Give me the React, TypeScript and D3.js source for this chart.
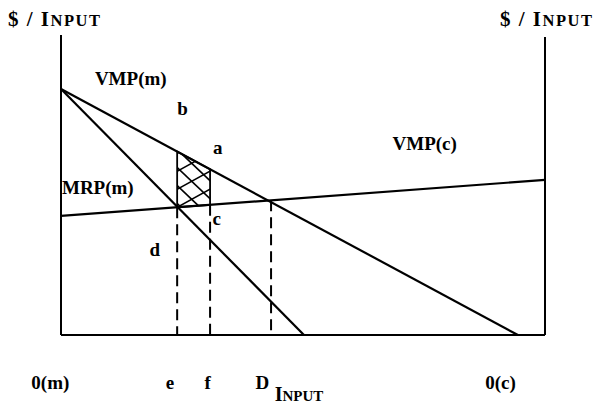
import { useEffect, useRef } from 'react';
import * as d3 from 'd3';

// input axis runs 0..100 from 0(m) to 0(c); value axis 0..100 from bottom to top of axes
const inputDomain = [0, 100];
const valueDomain = [0, 100];

// straight curves, given by their two end points [input, $/input]
const vmpM = [[0, 82], [94.4, 0]];
const mrpM = [[0, 82], [50.2, 0]];
const vmpC = [[0, 39.7], [100, 51.7]];

// marked input levels on the horizontal axis
const marks = [
  { name: 'e', input: 24 },
  { name: 'f', input: 30.8 },
  { name: 'D', input: 43.4 },
];

// point labels placed in chart units
const curveLabels = [
  { text: 'VMP(m)', input: 7, value: 83.5 },
  { text: 'b', input: 24, value: 73.3 },
  { text: 'a', input: 31.4, value: 60.3 },
  { text: 'MRP(m)', input: 0.2, value: 47 },
  { text: 'VMP(c)', input: 68.5, value: 61.8 },
  { text: 'c', input: 31.3, value: 36.8 },
  { text: 'd', input: 18.3, value: 26.5 },
];

const bottomLabels = [
  { text: '0(m)', input: -2.2 },
  { text: 'e', input: 22.5 },
  { text: 'f', input: 30.3 },
  { text: 'D', input: 41.6 },
  { text: '0(c)', input: 90.8 },
];

const font = '"Liberation Serif", "DejaVu Serif", serif';

function lineAt(seg: number[][], x: number) {
  const [[x0, y0], [x1, y1]] = seg;
  return y0 + ((x - x0) / (x1 - x0)) * (y1 - y0);
}

export default function App() {
  const svgRef = useRef<SVGSVGElement>(null);

  useEffect(() => {
    if (!svgRef.current) return;
    const svg = d3.select(svgRef.current);
    svg.selectAll('*').remove();

    const x = d3.scaleLinear().domain(inputDomain).range([61, 545]);
    const y = d3.scaleLinear().domain(valueDomain).range([335, 35]);
    const line = d3.line<number[]>().x(d => x(d[0])).y(d => y(d[1]));

    // cross-hatched area between e and f, VMP(m) above and VMP(c) below
    const e = marks[0].input;
    const f = marks[1].input;
    const area: number[][] = [
      [e, lineAt(vmpM, e)],
      [f, lineAt(vmpM, f)],
      [f, lineAt(vmpC, f)],
      [e, lineAt(vmpC, e)],
    ];
    svg.append('defs').append('clipPath').attr('id', 'hatch-clip')
      .append('path').attr('d', line(area) + 'Z');

    const hx0 = x(e) - 40, hx1 = x(f) + 40;
    const hy0 = y(lineAt(vmpM, e)) - 40, hy1 = y(lineAt(vmpC, e)) + 40;
    const hatch = svg.append('g').attr('clip-path', 'url(#hatch-clip)');
    for (let k = -8; k <= 8; k++) {
      const off = k * 18;
      hatch.append('line')
        .attr('x1', hx0).attr('y1', hy0 + off)
        .attr('x2', hx1).attr('y2', hy0 + off + (hx1 - hx0) * 0.95)
        .attr('stroke', '#000').attr('stroke-width', 1.7);
      hatch.append('line')
        .attr('x1', hx0).attr('y1', hy1 + off)
        .attr('x2', hx1).attr('y2', hy1 + off - (hx1 - hx0) * 0.55)
        .attr('stroke', '#000').attr('stroke-width', 1.7);
    }
    svg.append('path').attr('d', line(area) + 'Z')
      .attr('fill', 'none').attr('stroke', '#000').attr('stroke-width', 1.8);

    // axes frame
    const axis = svg.append('g').attr('stroke', '#000').attr('stroke-width', 2);
    axis.append('line').attr('x1', x(0)).attr('x2', x(0)).attr('y1', y(100)).attr('y2', y(0));
    axis.append('line').attr('x1', x(100)).attr('x2', x(100)).attr('y1', y(99.3)).attr('y2', y(0));
    axis.append('line').attr('x1', x(0)).attr('x2', x(100)).attr('y1', y(0)).attr('y2', y(0));

    // dashed drop lines
    svg.append('g').selectAll('line').data(marks).join('line')
      .attr('x1', d => x(d.input)).attr('x2', d => x(d.input))
      .attr('y1', d => y(lineAt(vmpC, d.input)))
      .attr('y2', y(0))
      .attr('stroke', '#000').attr('stroke-width', 2)
      .attr('stroke-dasharray', '11 6');

    // curves
    [vmpM, mrpM, vmpC].forEach(seg => {
      svg.append('path').attr('d', line(seg))
        .attr('fill', 'none').attr('stroke', '#000').attr('stroke-width', 2.2);
    });

    const txt = svg.append('g').attr('font-family', font).attr('font-weight', 'bold')
      .attr('font-size', 19).attr('fill', '#000');

    txt.selectAll('text.cl').data(curveLabels).join('text').attr('class', 'cl')
      .attr('x', d => x(d.input)).attr('y', d => y(d.value)).text(d => d.text);

    txt.selectAll('text.bl').data(bottomLabels).join('text').attr('class', 'bl')
      .attr('x', d => x(d.input)).attr('y', 389).attr('text-anchor', 'middle').text(d => d.text);

    // small-caps titles: big initial, smaller rest
    const caps = (sel: any, lead: string, rest: string, big: number, small: number) => {
      sel.append('tspan').attr('font-size', big).text(lead);
      sel.append('tspan').attr('font-size', small).text(rest);
    };
    const titles = svg.append('g').attr('font-family', font).attr('font-weight', 'bold').attr('fill', '#000');
    caps(titles.append('text').attr('x', 8).attr('y', 26).attr('textLength', 92), '$ / I', 'NPUT', 21, 16.5);
    caps(titles.append('text').attr('x', 500).attr('y', 26).attr('textLength', 92), '$ / I', 'NPUT', 21, 16.5);
    caps(titles.append('text').attr('x', 299).attr('y', 401).attr('text-anchor', 'middle'), 'I', 'NPUT', 20, 15);
  }, []);

  return (
    <div style={{ position: 'absolute', left: 0, top: 0 }}>
      <svg ref={svgRef} width={595} height={405} style={{ display: 'block', background: '#fff' }} />
    </div>
  );
}
